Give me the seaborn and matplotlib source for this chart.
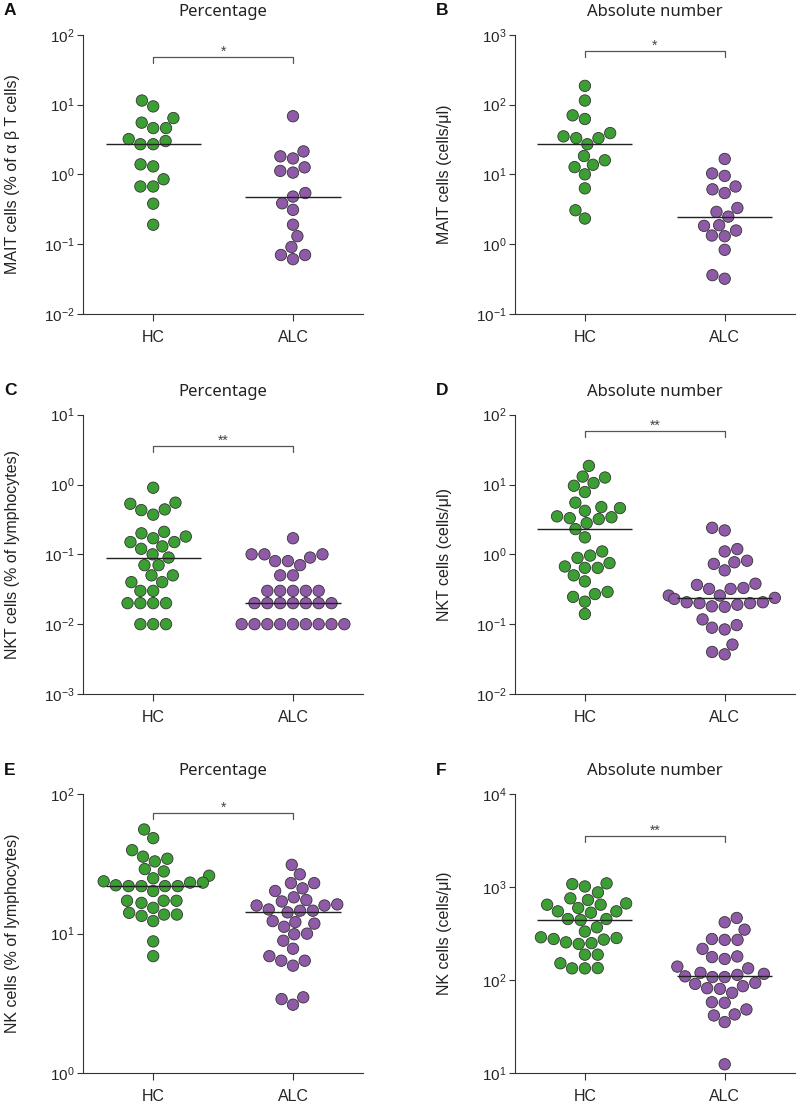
import matplotlib
matplotlib.use('Agg')
import matplotlib.pyplot as plt
import matplotlib.ticker as mticker
import matplotlib.transforms as mtransforms
import pandas as pd
import seaborn as sns

groups = ['HC', 'ALC']
palette = {'HC': '#3c9f34', 'ALC': '#8f5aa7'}

# A - MAIT cells, percentage
mait_pct_hc = [11.4, 9.4, 6.4, 5.5, 4.6, 4.6, 3.2, 3.0, 2.7, 2.7, 1.39, 1.3, 0.85, 0.67, 0.67, 0.38, 0.19]
mait_pct_alc = [6.8, 2.13, 1.81, 1.69, 1.26, 1.12, 1.06, 0.54, 0.48, 0.385, 0.31, 0.19, 0.13, 0.091, 0.07, 0.07, 0.061]

# B - MAIT cells, absolute number
mait_abs_hc = [185, 114, 70, 62, 39, 35, 33, 33, 27, 18.3, 15.9, 13.7, 12.7, 10, 6.3, 3.06, 2.33]
mait_abs_alc = [16.6, 10.3, 9.5, 6.7, 6.1, 5.4, 3.3, 2.9, 2.48, 1.87, 1.83, 1.57, 1.33, 1.3, 0.83, 0.36, 0.32]

# C - NKT cells, percentage
nkt_pct_hc = [0.9, 0.55, 0.53, 0.44, 0.43, 0.37, 0.21, 0.2, 0.18, 0.17, 0.15, 0.15, 0.13, 0.12, 0.1, 0.09,
              0.07, 0.07, 0.05, 0.05, 0.04, 0.04, 0.03, 0.03, 0.02, 0.02, 0.02, 0.02, 0.01, 0.01, 0.01]
nkt_pct_alc = [0.17, 0.1, 0.1, 0.1, 0.09, 0.08, 0.08, 0.07, 0.05, 0.05, 0.03, 0.03, 0.03, 0.03, 0.03,
               0.02, 0.02, 0.02, 0.02, 0.02, 0.02, 0.02, 0.01, 0.01, 0.01, 0.01, 0.01, 0.01, 0.01, 0.01, 0.01]

# D - NKT cells, absolute number
nkt_abs_hc = [18.5, 13.0, 12.6, 10.5, 9.6, 7.8, 5.5, 4.75, 4.6, 4.2, 3.5, 3.4, 3.3, 3.2, 2.8, 2.3,
              1.75, 1.1, 0.96, 0.89, 0.75, 0.67, 0.64, 0.64, 0.5, 0.41, 0.29, 0.27, 0.246, 0.21, 0.14]
nkt_abs_alc = [2.4, 2.2, 1.19, 1.1, 0.81, 0.77, 0.73, 0.59, 0.38, 0.365, 0.33, 0.32, 0.32, 0.257, 0.257, 0.238,
               0.23, 0.206, 0.206, 0.2, 0.2, 0.19, 0.18, 0.177, 0.117, 0.097, 0.089, 0.084, 0.051, 0.04, 0.037]

# E - NK cells, percentage
nk_pct_hc = [55.7, 48.3, 39.6, 35.6, 34.4, 32.9, 29.0, 27.9, 26.0, 24.9, 23.7, 23.2, 23.2, 22.2, 21.9, 21.9,
             21.9, 21.9, 20.2, 17.2, 17.2, 17.2, 16.6, 15.3, 14.1, 13.7, 13.7, 13.4, 12.3, 8.8, 6.9]
nk_pct_alc = [31.1, 26.6, 23.0, 23.0, 21.1, 20.2, 18.2, 17.4, 17.0, 16.2, 15.9, 15.9, 14.9, 14.6, 14.6, 14.2,
              12.3, 12.1, 11.8, 11.2, 10.0, 9.9, 8.9, 7.8, 6.9, 6.4, 6.4, 5.9, 3.5, 3.4, 3.1]

# F - NK cells, absolute number
nk_abs_hc = [1097, 1077, 1016, 877, 757, 726, 668, 647, 647, 596, 549, 549, 531, 454, 454, 443,
             370, 333, 289, 284, 277, 273, 255, 250, 245, 188, 188, 152, 135, 134, 134]
nk_abs_alc = [466, 419, 349, 277, 271, 271, 217, 180, 177, 169, 140, 134, 120, 117, 114, 110,
              108, 108, 93.6, 91.2, 86.2, 82, 80.7, 73.2, 58, 57.2, 48.5, 42.9, 41.8, 35.5, 12.5]

panels = [
    ('A', 'Percentage', 'MAIT cells (% of α β T cells)', mait_pct_hc, mait_pct_alc, (1e-2, 1e2), '*', 0.921),
    ('B', 'Absolute number', 'MAIT cells (cells/μl)', mait_abs_hc, mait_abs_alc, (1e-1, 1e3), '*', 0.943),
    ('C', 'Percentage', 'NKT cells (% of lymphocytes)', nkt_pct_hc, nkt_pct_alc, (1e-3, 1e1), '**', 0.888),
    ('D', 'Absolute number', 'NKT cells (cells/μl)', nkt_abs_hc, nkt_abs_alc, (1e-2, 1e2), '**', 0.943),
    ('E', 'Percentage', 'NK cells (% of lymphocytes)', nk_pct_hc, nk_pct_alc, (1e0, 1e2), '*', 0.931),
    ('F', 'Absolute number', 'NK cells (cells/μl)', nk_abs_hc, nk_abs_alc, (1e1, 1e4), '**', 0.849),
]

sns.set_style('ticks')
plt.rcParams['font.family'] = ['Liberation Sans', 'DejaVu Sans']
plt.rcParams['axes.edgecolor'] = '#333333'
plt.rcParams['axes.linewidth'] = 0.8

W, H = 797, 1107
fig = plt.figure(figsize=(W / 100, H / 100), dpi=100)

# axes boxes in pixels: left, top, width, height
col_left = [83.3, 515]
row_top = [34.7, 414.7, 794]
row_base = [15, 395, 775]
ax_w, ax_h = 279.6, 279.3

for i, (letter, title, ylabel, hc, alc, ylim, stars, by) in enumerate(panels):
    r, c = divmod(i, 2)
    ax = fig.add_axes([col_left[c] / W, 1 - (row_top[r] + ax_h) / H, ax_w / W, ax_h / H])

    df = pd.DataFrame({'group': ['HC'] * len(hc) + ['ALC'] * len(alc),
                       'value': list(hc) + list(alc)})

    sns.swarmplot(data=df, x='group', y='value', hue='group', order=groups, hue_order=groups,
                  palette=palette, size=8.2, linewidth=0.6, edgecolor='#333333',
                  log_scale=True, legend=False, ax=ax, zorder=3)
    sns.boxplot(data=df, x='group', y='value', order=groups, log_scale=True, width=0.68,
                showbox=False, showcaps=False, showfliers=False, whis=0,
                whiskerprops={'visible': False},
                medianprops={'color': '#222222', 'linewidth': 1.0, 'zorder': 4}, ax=ax)

    ax.set_xlim(-0.5, 1.5)
    ax.set_ylim(*ylim)
    ax.yaxis.set_major_locator(mticker.LogLocator(base=10, numticks=10))
    ax.yaxis.set_minor_locator(mticker.NullLocator())
    sns.despine(ax=ax)

    ax.tick_params(axis='y', length=4.3, width=0.8, pad=2, labelsize=11, color='#333333')
    ax.tick_params(axis='x', length=5, width=0.8, pad=6.5, labelsize=11.5, color='#333333')
    ax.set_xlabel('')
    ax.set_ylabel(ylabel, fontsize=11.5, color='#222222')
    ax.yaxis.set_label_coords(-0.227, 0.5)
    ax.set_title(title, fontsize=12, pad=13.5, family=['Noto Sans', 'DejaVu Sans'], color='#222222')

    # significance bracket
    trans = mtransforms.blended_transform_factory(ax.transData, ax.transAxes)
    ax.plot([0, 0, 1, 1], [by - 0.022, by, by, by - 0.022], transform=trans,
            color='#555555', lw=0.9, clip_on=False)
    ax.text(0.5, by + 0.004, stars, transform=trans, ha='center', va='baseline',
            fontsize=10, color='#444444')

    fig.text((4 if c == 0 else 436) / W, 1 - row_base[r] / H, letter, fontsize=12.5,
             fontweight='bold', va='baseline', ha='left', color='#111111')

fig.savefig('out.png', dpi=100)
